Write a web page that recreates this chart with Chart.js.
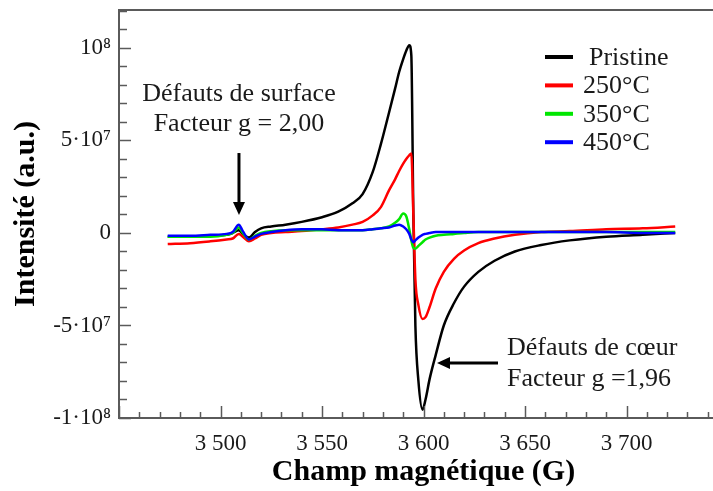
<!DOCTYPE html>
<html>
<head>
<meta charset="utf-8">
<script src="https://cdn.jsdelivr.net/npm/chart.js@4/dist/chart.umd.min.js"></script>
<style>
html,body{margin:0;padding:0;background:#fff;overflow:hidden;}
#wrap{width:740px;height:491px;}
</style>
</head>
<body>
<div id="wrap"><canvas id="c" width="740" height="491"></canvas></div>
<script>
// champ magnétique (G)
const fields = [3474, 3485, 3495, 3503, 3506, 3509, 3511, 3514, 3517, 3520, 3525, 3532, 3540, 3550, 3558,
  3565, 3570, 3575, 3579, 3583, 3586, 3588, 3590, 3591.5, 3593, 3594, 3595, 3596, 3597.5, 3599.5,
  3601, 3603, 3606, 3610, 3615, 3620, 3627, 3635, 3645, 3658, 3672, 3690, 3708, 3724];

// intensités, en unités de 10^7
const pristine = [-0.2, -0.2, -0.15, -0.1, 0.0, 0.15, -0.05, -0.25, 0.05, 0.25, 0.35, 0.45, 0.6, 0.85, 1.15,
  1.6, 2.1, 3.3, 4.8, 6.5, 7.8, 8.7, 9.4, 9.85, 10.15, 9.6, 1.0, -5.0, -8.0, -9.55,
  -9.0, -7.9, -6.6, -5.0, -3.8, -2.9, -2.1, -1.5, -1.0, -0.65, -0.4, -0.2, -0.1, 0.0];
const t250 = [-0.6, -0.55, -0.45, -0.35, -0.3, -0.05, -0.2, -0.45, -0.3, -0.1, 0.0, 0.05, 0.1, 0.2, 0.3,
  0.45, 0.6, 0.95, 1.4, 2.3, 2.9, 3.35, 3.75, 4.0, 4.2, 4.3, 1.0, -2.5, -3.9, -4.65,
  -4.55, -4.0, -3.0, -2.1, -1.4, -0.95, -0.55, -0.3, -0.1, 0.05, 0.1, 0.2, 0.25, 0.35];
const t350 = [-0.2, -0.2, -0.2, -0.1, 0.0, 0.3, 0.0, -0.35, -0.15, 0.0, 0.1, 0.15, 0.15, 0.15, 0.15,
  0.15, 0.15, 0.2, 0.25, 0.35, 0.55, 0.75, 1.05, 0.9, 0.2, -0.4, -0.8, -0.85, -0.7, -0.5,
  -0.35, -0.25, -0.15, -0.1, -0.05, 0.0, 0.05, 0.05, 0.05, 0.05, 0.05, 0.05, 0.05, 0.05];
const t450 = [-0.15, -0.15, -0.1, -0.05, 0.05, 0.45, 0.1, -0.35, -0.2, -0.05, 0.05, 0.15, 0.2, 0.2, 0.15,
  0.15, 0.15, 0.2, 0.25, 0.3, 0.4, 0.45, 0.35, 0.2, -0.05, -0.35, -0.5, -0.4, -0.25, -0.1,
  -0.05, 0.0, 0.05, 0.05, 0.05, 0.05, 0.05, 0.05, 0.05, 0.05, 0.05, 0.05, 0.0, 0.0];

const seriesLabels = ['Pristine', '250°C', '350°C', '450°C'];
const seriesColors = ['#000000', '#ff0000', '#00e600', '#0000ff'];

const xLabelValues = [3500, 3550, 3600, 3650, 3700];
const yLabelValues = [10, 5, 0, -5, -10];
const yLabelTexts = ['10⁸', '5·10⁷', '0', '-5·10⁷', '-1·10⁸'];

const SERIF = "'Liberation Serif','Times New Roman',serif";
const INK = '#1a1a1a';
const AXIS = '#5a5a5a';

function fmtField(v){ return String(v).replace(/(\d)(\d{3})$/, '$1 $2'); }

const allSeries = [pristine, t250, t350, t450];
const datasets = allSeries.map((s, i) => ({
  label: seriesLabels[i],
  data: fields.map((f, k) => ({ x: f, y: s[k] })),
  borderColor: seriesColors[i],
  borderWidth: 2.5,
  pointRadius: 0,
  cubicInterpolationMode: 'monotone',
  order: 4 - i
}));

// cadre du haut + graduations vers l'intérieur
const frame = {
  id: 'frame',
  afterDraw(chart){
    const { ctx, chartArea: a, scales: { x, y } } = chart;
    ctx.save();
    ctx.strokeStyle = AXIS; ctx.lineWidth = 2;
    ctx.beginPath(); ctx.moveTo(a.left, a.top); ctx.lineTo(chart.width, a.top); ctx.stroke();
    ctx.lineWidth = 1.5;
    for (let v = x.min; v <= x.max; v += 10){
      const p = Math.round(x.getPixelForValue(v)) + 0.5;
      const len = v % 50 === 0 ? 12 : 6;
      ctx.beginPath(); ctx.moveTo(p, a.bottom); ctx.lineTo(p, a.bottom - len); ctx.stroke();
    }
    for (let v = Math.ceil(y.min); v <= Math.floor(y.max); v++){
      const p = Math.round(y.getPixelForValue(v)) + 0.5;
      const len = v % 5 === 0 ? 12 : 8;
      ctx.beginPath(); ctx.moveTo(a.left, p); ctx.lineTo(a.left + len, p); ctx.stroke();
    }
    ctx.restore();
  }
};

// légende
const legendBox = {
  id: 'legendBox',
  afterDraw(chart){
    const { ctx } = chart;
    ctx.save();
    ctx.font = '26px ' + SERIF;
    ctx.textBaseline = 'alphabetic';
    seriesLabels.forEach((lab, i) => {
      const base = 65 + i * 28.4;
      ctx.strokeStyle = seriesColors[i]; ctx.lineWidth = 4;
      ctx.beginPath(); ctx.moveTo(545, base - 8); ctx.lineTo(573, base - 8); ctx.stroke();
      ctx.fillStyle = INK;
      ctx.fillText(lab, i === 0 ? 589 : 583, base);
    });
    ctx.restore();
  }
};

// annotations (ancrées dans l'espace des données)
const notes = [
  { lines: ['Défauts de surface', 'Facteur g = 2,00'], x: 3509.1, ys: [7.13, 5.51], align: 'center' },
  { lines: ['Défauts de cœur', 'Facteur g =1,96'], x: 3641.1, ys: [-6.59, -8.27], align: 'left' }
];
const arrows = [
  { from: [3509.1, 4.32], to: [3509.1, 0.97] },
  { from: [3636.7, -7.03], to: [3606.65, -7.03] }
];

const annot = {
  id: 'annot',
  afterDraw(chart){
    const { ctx, scales: { x, y } } = chart;
    ctx.save();
    ctx.font = '26px ' + SERIF;
    ctx.fillStyle = INK;
    ctx.textBaseline = 'alphabetic';
    notes.forEach(n => {
      ctx.textAlign = n.align;
      n.lines.forEach((t, k) => ctx.fillText(t, x.getPixelForValue(n.x), y.getPixelForValue(n.ys[k])));
    });
    ctx.strokeStyle = '#000'; ctx.fillStyle = '#000'; ctx.lineWidth = 3;
    arrows.forEach(ar => {
      const x0 = x.getPixelForValue(ar.from[0]), y0 = y.getPixelForValue(ar.from[1]);
      const x1 = x.getPixelForValue(ar.to[0]), y1 = y.getPixelForValue(ar.to[1]);
      const ang = Math.atan2(y1 - y0, x1 - x0), head = 13, half = 6;
      const bx = x1 - head * Math.cos(ang), by = y1 - head * Math.sin(ang);
      ctx.beginPath(); ctx.moveTo(x0, y0); ctx.lineTo(bx, by); ctx.stroke();
      ctx.beginPath();
      ctx.moveTo(x1, y1);
      ctx.lineTo(bx - half * Math.sin(ang), by + half * Math.cos(ang));
      ctx.lineTo(bx + half * Math.sin(ang), by - half * Math.cos(ang));
      ctx.closePath(); ctx.fill();
    });
    ctx.restore();
  }
};

new Chart(document.getElementById('c').getContext('2d'), {
  type: 'line',
  data: { datasets },
  plugins: [frame, legendBox, annot],
  options: {
    responsive: false,
    animation: false,
    devicePixelRatio: 1,
    layout: { padding: { top: 10, right: 12, left: 0, bottom: 0 } },
    plugins: { legend: { display: false }, tooltip: { enabled: false } },
    scales: {
      x: {
        type: 'linear', min: 3450, max: 3750,
        grid: { display: false, drawTicks: false },
        border: { display: true, color: AXIS, width: 2 },
        ticks: {
          stepSize: 10, autoSkip: false, maxRotation: 0, padding: 12, color: INK,
          font: { family: SERIF, size: 23 },
          callback: v => xLabelValues.includes(v) ? fmtField(v) : ''
        },
        title: { display: true, text: 'Champ magnétique (G)', color: '#000',
          font: { family: SERIF, size: 30, weight: 'bold' }, padding: { top: 0, bottom: 1 } },
        afterFit: s => { s.height = 73; s.paddingLeft = 0; s.paddingRight = 0; }
      },
      y: {
        min: -10, max: 12.05,
        grid: { display: false, drawTicks: false },
        border: { display: true, color: AXIS, width: 2 },
        ticks: {
          stepSize: 1, includeBounds: false, autoSkip: false, padding: 8, color: INK,
          font: { family: SERIF, size: 23 },
          callback: v => { const i = yLabelValues.indexOf(Math.round(v)); return (i >= 0 && Math.abs(v - Math.round(v)) < 1e-6) ? yLabelTexts[i] : ''; }
        },
        title: { display: true, text: 'Intensité (a.u.)', color: '#000',
          font: { family: SERIF, size: 30, weight: 'bold' }, padding: { top: 8, bottom: 0 } },
        afterFit: s => { s.width = 119; s.paddingTop = 0; s.paddingBottom = 0; }
      }
    }
  }
});
</script>
</body>
</html>
